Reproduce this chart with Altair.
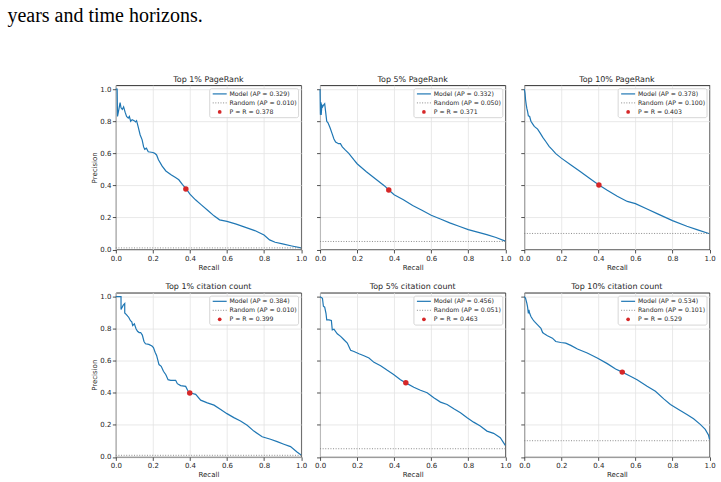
import altair as alt
import pandas as pd

header_text = "years and time horizons."
titles = ["Top 1% PageRank", "Top 5% PageRank", "Top 10% PageRank",
          "Top 1% citation count", "Top 5% citation count", "Top 10% citation count"]
ap_model = [0.329, 0.332, 0.378, 0.384, 0.456, 0.534]
ap_random = [0.010, 0.050, 0.100, 0.010, 0.051, 0.101]
p_eq_r = [0.378, 0.371, 0.403, 0.399, 0.463, 0.529]
tick_values = [0.0, 0.2, 0.4, 0.6, 0.8, 1.0]

recall_pr1 = [0.0, 0.007, 0.009, 0.014, 0.023, 0.028, 0.035, 0.042, 0.05, 0.058,
              0.067, 0.073, 0.08, 0.088, 0.099, 0.106, 0.112, 0.12, 0.131, 0.142,
              0.15, 0.156, 0.165, 0.175, 0.2, 0.21, 0.22, 0.23, 0.25, 0.27,
              0.3, 0.32, 0.34, 0.36, 0.38, 0.4, 0.43, 0.46, 0.5, 0.53,
              0.56, 0.6, 0.65, 0.7, 0.75, 0.8, 0.83, 0.86, 0.9, 0.95, 1.0]
precision_pr1 = [1.0, 1.0, 0.83, 0.86, 0.916, 0.884, 0.874, 0.89, 0.857, 0.83,
                 0.82, 0.83, 0.8, 0.81, 0.804, 0.796, 0.804, 0.768, 0.716, 0.684,
                 0.64, 0.625, 0.632, 0.61, 0.605, 0.6, 0.59, 0.56, 0.52, 0.49,
                 0.465, 0.45, 0.435, 0.405, 0.378, 0.345, 0.31, 0.28, 0.24, 0.21,
                 0.185, 0.175, 0.158, 0.138, 0.118, 0.09, 0.06, 0.045, 0.035, 0.022, 0.01]

recall_pr5 = [0.0, 0.002, 0.004, 0.006, 0.01, 0.014, 0.018, 0.025, 0.03, 0.036,
              0.043, 0.054, 0.066, 0.075, 0.084, 0.1, 0.11, 0.12, 0.137, 0.155,
              0.182, 0.2, 0.25, 0.3, 0.35, 0.371, 0.4, 0.45, 0.5, 0.55,
              0.6, 0.65, 0.7, 0.75, 0.8, 0.85, 0.9, 0.95, 1.0]
precision_pr5 = [1.0, 0.84, 0.92, 0.84, 0.9, 0.89, 0.9, 0.91, 0.86, 0.80,
                 0.79, 0.76, 0.72, 0.69, 0.67, 0.66, 0.66, 0.64, 0.62, 0.6,
                 0.56, 0.535, 0.485, 0.44, 0.395, 0.371, 0.342, 0.311, 0.274, 0.245,
                 0.214, 0.19, 0.166, 0.145, 0.124, 0.108, 0.093, 0.075, 0.052]

recall_pr10 = [0.0, 0.004, 0.007, 0.011, 0.014, 0.018, 0.022, 0.029, 0.036, 0.045,
               0.054, 0.072, 0.086, 0.1, 0.116, 0.134, 0.152, 0.17, 0.2, 0.25,
               0.3, 0.35, 0.403, 0.448, 0.502, 0.556, 0.6, 0.663, 0.717, 0.8,
               0.878, 0.932, 1.0]
precision_pr10 = [1.0, 0.975, 0.934, 0.9, 0.88, 0.86, 0.834, 0.83, 0.8, 0.784,
                  0.768, 0.751, 0.726, 0.7, 0.674, 0.643, 0.622, 0.598, 0.57, 0.529,
                  0.488, 0.446, 0.403, 0.369, 0.332, 0.3, 0.286, 0.253, 0.224, 0.18,
                  0.145, 0.124, 0.098]

recall_cc1 = [0.0, 0.028, 0.028, 0.04, 0.048, 0.048, 0.057, 0.064, 0.07, 0.079,
              0.086, 0.091, 0.1, 0.109, 0.117, 0.126, 0.134, 0.143, 0.152, 0.16,
              0.178, 0.195, 0.203, 0.212, 0.22, 0.233, 0.245, 0.257, 0.27, 0.282,
              0.296, 0.323, 0.332, 0.35, 0.377, 0.39, 0.404, 0.431, 0.458, 0.494,
              0.53, 0.566, 0.6, 0.637, 0.673, 0.709, 0.745, 0.79, 0.835, 0.871,
              0.907, 0.943, 0.978, 1.0]
precision_cc1 = [1.0, 1.0, 0.92, 0.947, 0.957, 0.898, 0.888, 0.878, 0.87, 0.85,
                 0.843, 0.82, 0.83, 0.8, 0.784, 0.776, 0.776, 0.76, 0.72, 0.706,
                 0.702, 0.692, 0.682, 0.653, 0.633, 0.576, 0.565, 0.534, 0.513, 0.482,
                 0.478, 0.478, 0.457, 0.445, 0.44, 0.41, 0.399, 0.39, 0.354, 0.337,
                 0.323, 0.296, 0.27, 0.245, 0.224, 0.197, 0.161, 0.126, 0.11, 0.095,
                 0.079, 0.064, 0.031, 0.012]

recall_cc5 = [0.0, 0.013, 0.018, 0.025, 0.032, 0.036, 0.048, 0.061, 0.066, 0.075,
              0.093, 0.111, 0.129, 0.147, 0.165, 0.183, 0.21, 0.237, 0.264, 0.291,
              0.327, 0.363, 0.399, 0.434, 0.463, 0.506, 0.542, 0.578, 0.614, 0.65,
              0.686, 0.722, 0.758, 0.794, 0.829, 0.865, 0.901, 0.937, 0.973, 1.0]
precision_cc5 = [1.0, 0.99, 0.94, 0.934, 0.896, 0.855, 0.855, 0.851, 0.793, 0.797,
                 0.768, 0.752, 0.731, 0.71, 0.665, 0.658, 0.644, 0.631, 0.617, 0.59,
                 0.569, 0.54, 0.513, 0.482, 0.462, 0.435, 0.416, 0.4, 0.369, 0.342,
                 0.327, 0.3, 0.275, 0.244, 0.217, 0.193, 0.161, 0.147, 0.12, 0.072]

recall_cc10 = [0.0, 0.007, 0.014, 0.018, 0.022, 0.025, 0.029, 0.036, 0.045, 0.054,
               0.072, 0.09, 0.099, 0.108, 0.125, 0.152, 0.17, 0.197, 0.224, 0.251,
               0.287, 0.34, 0.394, 0.448, 0.493, 0.529, 0.573, 0.609, 0.663, 0.708,
               0.753, 0.789, 0.833, 0.878, 0.914, 0.95, 0.977, 0.995, 1.0]
precision_cc10 = [1.0, 0.99, 0.958, 0.934, 0.896, 0.917, 0.896, 0.876, 0.859, 0.845,
                  0.824, 0.803, 0.776, 0.768, 0.756, 0.741, 0.72, 0.714, 0.71, 0.696,
                  0.673, 0.648, 0.617, 0.582, 0.549, 0.529, 0.503, 0.482, 0.441, 0.41,
                  0.362, 0.327, 0.296, 0.265, 0.238, 0.203, 0.172, 0.135, 0.11]

recalls = [recall_pr1, recall_pr5, recall_pr10, recall_cc1, recall_cc5, recall_cc10]
precisions = [precision_pr1, precision_pr5, precision_pr10,
              precision_cc1, precision_cc5, precision_cc10]

BLUE = "#1f77b4"
RED = "#d62728"
TXT = "#262626"
FONT = "DejaVu Sans"
W, H = 185.5, 164.5
Y_MAX = 1.025


def panel(i):
    xs = alt.Scale(domain=[0, 1], nice=False, zero=False)
    ys = alt.Scale(domain=[0, Y_MAX], nice=False, zero=False)
    x_axis = alt.Axis(values=tick_values, format=".1f", title="Recall",
                      labelFlush=False, grid=True)
    if i % 3 == 0:
        y_axis = alt.Axis(values=tick_values, format=".1f", title="Precision", grid=True)
    else:
        y_axis = alt.Axis(values=tick_values, labels=False, title=None, grid=True)

    def X(field):
        return alt.X(field, scale=xs, axis=x_axis)

    def Y(field):
        return alt.Y(field, scale=ys, axis=y_axis)

    curve = pd.DataFrame({"recall": recalls[i], "precision": precisions[i]})
    curve["order"] = list(range(len(curve)))
    line = alt.Chart(curve).mark_line(color=BLUE, strokeWidth=1.2).encode(
        x=X("recall:Q"), y=Y("precision:Q"), order="order:Q",
    )
    rnd = alt.Chart(pd.DataFrame({"recall": [0.0], "recall_end": [1.0],
                                  "precision": [ap_random[i]]})).mark_rule(
        color="#7f7f7f", strokeDash=[1, 1.6], strokeWidth=0.9
    ).encode(x=X("recall:Q"), x2="recall_end:Q", y=Y("precision:Q"))
    dot = alt.Chart(pd.DataFrame({"recall": [p_eq_r[i]], "precision": [p_eq_r[i]]})).mark_circle(
        color=RED, size=30, opacity=1
    ).encode(x=X("recall:Q"), y=Y("precision:Q"))

    one = pd.DataFrame({"k": [0]})
    box = alt.Chart(one).mark_rect(
        fill="white", fillOpacity=0.8, stroke="#cccccc", strokeWidth=0.8, cornerRadius=2
    ).encode(x=alt.value(94), x2=alt.value(183), y=alt.value(3.5), y2=alt.value(32.5))
    sym1 = alt.Chart(one).mark_rule(color=BLUE, strokeWidth=1.2).encode(
        x=alt.value(97), x2=alt.value(111), y=alt.value(8.7))
    sym2 = alt.Chart(one).mark_rule(color="#7f7f7f", strokeDash=[1, 1.6], strokeWidth=0.9).encode(
        x=alt.value(97), x2=alt.value(111), y=alt.value(17.7))
    sym3 = alt.Chart(one).mark_circle(color=RED, size=14, opacity=1).encode(
        x=alt.value(104), y=alt.value(26.7))

    labels = [f"Model (AP = {ap_model[i]:.3f})",
              f"Random (AP = {ap_random[i]:.3f})",
              f"P = R = {p_eq_r[i]:.3f}"]
    texts = []
    for lab, yy in zip(labels, [8.7, 17.7, 26.7]):
        texts.append(
            alt.Chart(pd.DataFrame({"label": [lab]})).mark_text(
                align="left", baseline="middle", font=FONT, fontSize=6.2, color=TXT
            ).encode(x=alt.value(113.8), y=alt.value(yy), text="label:N")
        )

    ttl = alt.Chart(pd.DataFrame({"label": [titles[i]]})).mark_text(
        align="center", baseline="alphabetic", font=FONT, fontSize=8, color=TXT
    ).encode(x=alt.value(W / 2), y=alt.value(-3.4), text="label:N")

    layers = [line, rnd, dot, box, sym1, sym2, sym3] + texts + [ttl]
    if i == 0:
        header = alt.Chart(pd.DataFrame({"label": [header_text]})).mark_text(
            align="left", baseline="alphabetic", font="Liberation Serif",
            fontSize=20, color="black"
        ).encode(x=alt.value(-108.5), y=alt.value(-63.5), text="label:N")
        layers.append(header)

    return alt.layer(*layers).properties(width=W, height=H)


panels = [panel(i) for i in range(6)]

chart = alt.concat(
    *panels, columns=3, spacing={"row": 42.7, "column": 18.5}, bounds="flush"
).properties(
    padding={"left": 7, "top": 5, "right": 5, "bottom": 5},
    background="white",
).configure_view(
    stroke="#1a1a1a", strokeWidth=0.9
).configure_axis(
    labelFont=FONT, titleFont=FONT, labelFontSize=7, titleFontSize=7,
    labelColor=TXT, titleColor=TXT, titleFontWeight="normal",
    tickColor=TXT, tickSize=3.5, tickWidth=0.8, domain=False,
    gridColor="#e3e3e3", gridWidth=0.8, labelPadding=1.5, titlePadding=2,
)

chart.save("out.html", embed_options={"renderer": "svg", "actions": False})
